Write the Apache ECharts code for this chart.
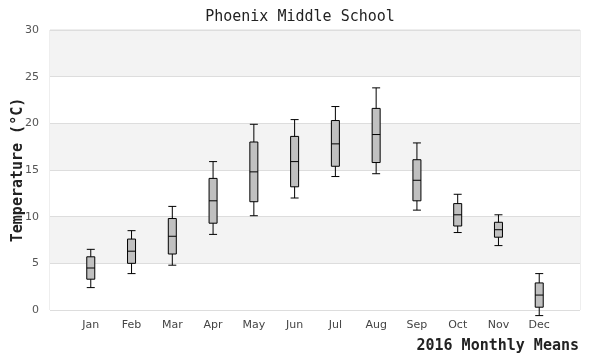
<!DOCTYPE html>
<html>
<head>
<meta charset="utf-8">
<script src="https://cdn.jsdelivr.net/npm/echarts@6/dist/echarts.min.js"></script>
<style>html,body{margin:0;padding:0;background:#fff}#c{width:600px;height:360px}</style>
</head>
<body>
<div id="c"></div>
<script>
const months = ['Jan','Feb','Mar','Apr','May','Jun','Jul','Aug','Sep','Oct','Nov','Dec'];
const lowWhisker = [2.4, 3.9, 4.8, 8.1, 10.1, 12.0, 14.3, 14.6, 10.7, 8.3, 6.9, -0.6];
const q1 = [3.3, 5.0, 6.0, 9.3, 11.6, 13.2, 15.4, 15.8, 11.7, 9.0, 7.8, 0.3];
const median = [4.5, 6.3, 7.9, 11.7, 14.8, 15.9, 17.8, 18.8, 13.9, 10.2, 8.6, 1.6];
const q3 = [5.7, 7.6, 9.8, 14.1, 18.0, 18.6, 20.3, 21.6, 16.1, 11.4, 9.4, 2.9];
const highWhisker = [6.5, 8.5, 11.1, 15.9, 19.9, 20.4, 21.8, 23.8, 17.9, 12.4, 10.2, 3.9];
const yTicks = [0, 5, 10, 15, 20, 25, 30];

const axisCats = [''].concat(months).concat(['']);
const boxData = months.map((m, i) => [m, lowWhisker[i], q1[i], median[i], q3[i], highWhisker[i]]);

const chart = echarts.init(document.getElementById('c'), null, {renderer: 'canvas'});
chart.setOption({
  animation: false,
  backgroundColor: '#ffffff',
  title: [{
    text: 'Phoenix Middle School',
    left: 'center',
    top: 5,
    textStyle: {fontFamily: 'DejaVu Sans Mono', fontSize: 15, fontWeight: 'normal', color: '#222'}
  }, {
    text: '2016 Monthly Means',
    right: 21,
    top: 339,
    padding: 0,
    textStyle: {fontFamily: 'DejaVu Sans Mono', fontSize: 15, fontWeight: 'bold', color: '#222'}
  }],
  grid: {left: 50, right: 20, top: 30, bottom: 50, containLabel: false, outerBoundsMode: 'none', show: true, borderColor: '#dddddd', borderWidth: 1, backgroundColor: 'transparent'},
  xAxis: {
    type: 'category',
    data: axisCats,
    boundaryGap: false,
    axisLine: {show: false},
    axisTick: {show: false},
    splitLine: {show: false},
    axisLabel: {interval: 0, margin: 10, fontSize: 11, color: '#444', fontFamily: 'DejaVu Sans'}
  },
  yAxis: {
    type: 'value',
    min: yTicks[0],
    max: yTicks[yTicks.length - 1],
    interval: 5,
    name: 'Temperature (°C)',
    nameLocation: 'middle',
    nameGap: 24,
    nameMoveOverlap: false,
    nameTextStyle: {fontFamily: 'DejaVu Sans Mono', fontSize: 15, fontWeight: 'bold', color: '#222'},
    axisLine: {show: false},
    axisTick: {show: false},
    axisLabel: {margin: 11, fontSize: 11, color: '#555', fontFamily: 'DejaVu Sans'},
    splitLine: {show: true, lineStyle: {color: '#dddddd', width: 1}},
    splitArea: {show: true, areaStyle: {color: ['#ffffff', '#f3f3f3']}}
  },
  series: [{
    type: 'boxplot',
    data: boxData,
    encode: {x: 0, y: [1, 2, 3, 4, 5]},
    boxWidth: [8, 8],
    itemStyle: {color: '#c0c0c0', borderColor: '#000000', borderWidth: 1},
    emphasis: {disabled: true}
  }]
});
</script>
</body>
</html>
